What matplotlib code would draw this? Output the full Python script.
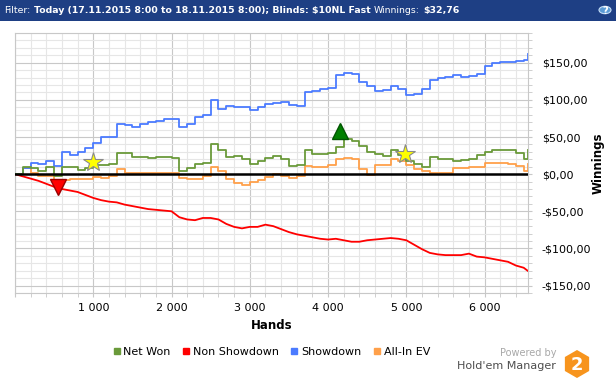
import matplotlib
matplotlib.use('Agg')
import matplotlib.pyplot as plt
import matplotlib.ticker as mticker
from matplotlib.patches import Rectangle, RegularPolygon, Circle
from matplotlib.lines import Line2D

# hands sampled every 100, last point is the final hand
hands = list(range(0, 6600, 100)) + [6550]

showdown = [0, 8, 15, 14, 18, 11, 30, 26, 30, 35,
            42, 50, 50, 68, 66, 64, 68, 70, 72, 74,
            74, 63, 68, 77, 80, 100, 88, 92, 91, 90,
            86, 90, 94, 96, 97, 93, 92, 110, 112, 115,
            116, 134, 136, 135, 124, 118, 112, 113, 118, 115,
            107, 108, 115, 127, 129, 131, 133, 131, 132, 135,
            146, 150, 151, 151, 152, 153, 162]

net_won = [0, 10, 8, 4, 9, -3, 10, 10, 6, 8,
           12, 12, 13, 29, 29, 23, 23, 22, 23, 23,
           22, 4, 8, 13, 15, 40, 33, 23, 24, 21,
           13, 18, 22, 24, 21, 11, 12, 33, 27, 27,
           29, 37, 47, 44, 38, 30, 27, 25, 33, 26,
           18, 13, 10, 23, 21, 21, 18, 19, 21, 26,
           30, 32, 32, 32, 29, 21, 32.76]

allin_ev = [0, 8, 2, -3, -2, -12, -8, -6, -6, -6,
            -4, -5, -3, 7, 1, 2, 2, 1, 2, 2,
            1, -5, -6, -7, -2, 10, 4, -7, -12, -14,
            -10, -8, -4, 0, -3, -5, -3, 11, 10, 10,
            12, 20, 22, 20, 7, -1, 12, 12, 20, 18,
            12, 7, 4, 2, 2, 2, 8, 8, 9, 10,
            15, 15, 15, 14, 11, 4, 14]

non_showdown = [0, -3, -6, -9, -13, -17, -20, -22, -24, -28,
                -32, -35, -37, -38, -41, -43, -45, -47, -48, -49,
                -50, -58, -61, -62, -59, -59, -61, -67, -71, -73,
                -71, -71, -68, -70, -74, -78, -81, -83, -85, -87,
                -88, -87, -89, -91, -91, -89, -88, -87, -86, -87,
                -89, -95, -101, -106, -108, -109, -109, -109, -107, -111,
                -112, -114, -116, -118, -123, -126, -130]

# markers: best session point, worst point, stars
peak_hand, peak_val = 4150, 58
low_hand, low_val = 550, -17
star_hands = [1000, 4980]
star_vals = [17, 27]

c_green = '#6A9A3A'
c_red = '#FF0000'
c_blue = '#4B7BFF'
c_orange = '#FFA04A'

fig = plt.figure(figsize=(6.16, 3.80), dpi=100)
ax = fig.add_axes([15/616, 87/380, 513/616, 260/380])

ax.plot(hands, allin_ev, color=c_orange, lw=1.3, drawstyle='steps-post', zorder=3)
ax.plot(hands, non_showdown, color=c_red, lw=1.3, zorder=3)
ax.plot(hands, showdown, color=c_blue, lw=1.3, drawstyle='steps-post', zorder=3)
ax.plot(hands, net_won, color=c_green, lw=1.3, drawstyle='steps-post', zorder=4)
ax.axhline(0, color='black', lw=1.8, zorder=5)

ax.plot(peak_hand, peak_val, marker='^', ms=11, color='#008000', mec='#005500', zorder=6)
ax.plot(low_hand, low_val, marker='v', ms=11, color='#FF0000', mec='#990000', zorder=6)
ax.plot(star_hands, star_vals, linestyle='None', marker='*', ms=15,
        color='#FFFF00', mec='#8A8A8A', mew=0.8, zorder=6)

ax.set_xlim(0, 6555)
ax.set_ylim(-160, 190)
ax.xaxis.set_major_locator(mticker.MultipleLocator(1000))
ax.xaxis.set_minor_locator(mticker.MultipleLocator(200))
ax.yaxis.set_major_locator(mticker.MultipleLocator(50))
ax.yaxis.set_minor_locator(mticker.MultipleLocator(10))
ax.xaxis.set_major_formatter(mticker.FuncFormatter(
    lambda v, p: '' if v <= 0 else f'{int(v):,}'.replace(',', ' ')))


def money(v, p):
    s = f'${abs(v):.2f}'.replace('.', ',')
    return '-' + s if v < 0 else s


ax.yaxis.set_major_formatter(mticker.FuncFormatter(money))
ax.yaxis.tick_right()
ax.yaxis.set_label_position('right')
ax.grid(which='major', color='#C8C8C8', lw=0.8)
ax.grid(which='minor', color='#E6E6E6', lw=0.8)
ax.set_axisbelow(True)
for s in ax.spines.values():
    s.set_color('#C8C8C8')
ax.tick_params(which='both', length=3, color='#C8C8C8', labelsize=8)
ax.tick_params(axis='y', pad=7)
ax.tick_params(axis='x', pad=4)

ax.set_xlabel('Hands', fontsize=8.5, weight='bold')
ax.xaxis.set_label_coords(0.5, -0.1)
ax.set_ylabel('Winnings', fontsize=8.5, weight='bold')
ax.yaxis.set_label_coords(1.125, 0.5)

handles = [Line2D([], [], marker='s', ms=5, color=c, linestyle='None')
           for c in (c_green, c_red, c_blue, c_orange)]
fig.legend(handles, ['Net Won', 'Non Showdown', 'Showdown', 'All-In EV'],
           loc='center', bbox_to_anchor=(271/616, 1 - 352/380), ncol=4,
           frameon=False, fontsize=8, handletextpad=0.2, columnspacing=1.0,
           handlelength=0.8)

# header bar
fig.add_artist(Rectangle((0, 1 - 21/380), 1, 21/380, transform=fig.transFigure,
                         facecolor='#1E3F84', edgecolor='none'))
fig.add_artist(Circle((605/616, 1 - 10/380), 6/616, transform=fig.transFigure,
                      facecolor='#5B9BD5', edgecolor='#C5DDF5', lw=0.8))
fig.text(605/616, 1 - 10.5/380, '?', color='white', fontsize=7, weight='bold',
         ha='center', va='center')

parts = [('Filter:', 'normal'),
         ('Today (17.11.2015 8:00 to 18.11.2015 8:00); Blinds: $10NL Fast', 'bold'),
         ('Winnings:', 'normal'),
         ('$32,76', 'bold')]
fig.canvas.draw()
r = fig.canvas.get_renderer()


def place(fs):
    x = 4
    out = []
    for txt, wt in parts:
        t = fig.text(x/616, 1 - 10.5/380, txt, color='white', fontsize=fs,
                     weight=wt, ha='left', va='center')
        out.append(t)
        x += t.get_window_extent(renderer=r).width + 3.5
    return out, x


texts, end = place(8)
for t in texts:
    t.remove()
place(8 * 462 / end)

# logo
fig.text(556/616, 1 - 353/380, 'Powered by', ha='right', va='center',
         color='#A8A8A8', fontsize=7)
fig.text(556/616, 1 - 366/380, "Hold'em Manager", ha='right', va='center',
         color='#4D4D4D', fontsize=8)
lax = fig.add_axes([561/616, 0, 32/616, 32/380])
lax.set_xlim(0, 32)
lax.set_ylim(0, 32)
lax.axis('off')
lax.add_patch(RegularPolygon((16, 16), 6, radius=14, orientation=0,
                             facecolor='#F7941D', edgecolor='none'))
lax.text(16, 15.5, '2', color='white', fontsize=13, weight='bold',
         ha='center', va='center')

fig.savefig('out.png', dpi=100)
